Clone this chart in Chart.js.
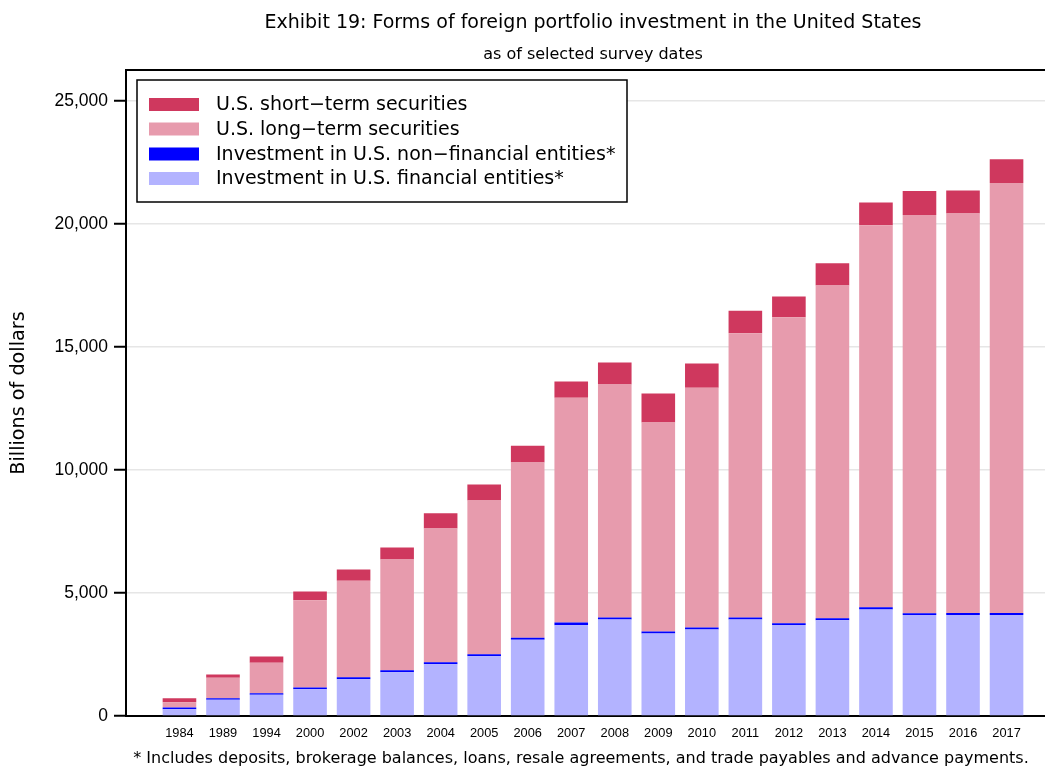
<!DOCTYPE html>
<html>
<head>
<meta charset="utf-8">
<script src="https://cdn.jsdelivr.net/npm/chart.js@4.4.1/dist/chart.umd.min.js"></script>
<style>
html,body{margin:0;padding:0;background:#fff;overflow:hidden;}
canvas{display:block;}
</style>
</head>
<body>
<canvas id="c" width="1062" height="768" style="width:1062px;height:768px"></canvas>
<script>
const categories = ['1984','1989','1994','2000','2002','2003','2004','2005','2006','2007','2008','2009','2010','2011','2012','2013','2014','2015','2016','2017'];
const financial = [276,659,862,1089,1496,1780,2106,2431,3098,3691,3923,3354,3516,3920,3700,3891,4326,4106,4106,4106];
const nonFinancial = [69,65,65,70,81,82,81,81,81,110,81,81,82,81,69,81,93,69,82,82];
const longTerm = [216,829,1236,3548,3919,4500,5435,6248,7126,9134,9472,8496,9743,11560,12441,13526,15528,16195,16234,17481];
const shortTerm = [163,134,256,354,459,488,622,651,679,663,894,1179,988,909,841,906,922,974,935,959];
const yTicks = [0,5000,10000,15000,20000,25000];

const titleText = 'Exhibit 19: Forms of foreign portfolio investment in the United States';
const subtitleText = 'as of selected survey dates';
const yTitleText = 'Billions of dollars';
const footnoteText = '* Includes deposits, brokerage balances, loans, resale agreements, and trade payables and advance payments.';

const FONT = '"DejaVu Sans", "Liberation Sans", Arial, sans-serif';
const FONT2 = '"Liberation Sans", Arial, sans-serif';

function pts(arr){ return arr.map((v,i)=>({x:i,y:v})); }

const datasets = [
  {label:'Investment in U.S. financial entities*', data:pts(financial), backgroundColor:'#b3b3ff'},
  {label:'Investment in U.S. non\u2212financial entities*', data:pts(nonFinancial), backgroundColor:'#0000ff'},
  {label:'U.S. long\u2212term securities', data:pts(longTerm), backgroundColor:'#e79bad'},
  {label:'U.S. short\u2212term securities', data:pts(shortTerm), backgroundColor:'#cf385e'}
];

const decor = {
  id:'decor',
  afterDraw(chart){
    const ctx = chart.ctx, a = chart.chartArea;
    ctx.save();
    ctx.strokeStyle = '#000'; ctx.lineWidth = 2;
    ctx.beginPath(); ctx.moveTo(a.left-1, a.top); ctx.lineTo(a.right, a.top); ctx.stroke();
    ctx.fillStyle = '#000';
    ctx.textAlign = 'center'; ctx.textBaseline = 'middle';
    ctx.font = '19px ' + FONT;
    ctx.fillText(titleText, 593, 23);
    ctx.font = '16px ' + FONT;
    ctx.fillText(subtitleText, 593, 55);
    ctx.font = '16px ' + FONT;
    ctx.fillText(footnoteText, 581, 759);
    ctx.save();
    ctx.translate(19, (a.top + a.bottom)/2);
    ctx.rotate(-Math.PI/2);
    ctx.font = '19.2px ' + FONT;
    ctx.fillText(yTitleText, 0, 0);
    ctx.restore();
    ctx.lineWidth = 1.5; ctx.strokeStyle = '#000';
    ctx.fillStyle = '#fff';
    ctx.fillRect(137, 80, 490, 122);
    ctx.strokeRect(137, 80, 490, 122);
    const order = chart.data.datasets.slice().reverse();
    const rows = [104.5, 129, 154, 178.5];
    ctx.textAlign = 'left';
    ctx.font = '19px ' + FONT;
    order.forEach((ds, k) => {
      ctx.fillStyle = ds.backgroundColor;
      ctx.fillRect(149, rows[k]-6.5, 50, 13);
      ctx.fillStyle = '#000';
      ctx.fillText(ds.label, 216, rows[k]+1);
    });
    ctx.restore();
  }
};

new Chart(document.getElementById('c'), {
  type:'bar',
  data:{datasets},
  options:{
    responsive:false,
    animation:false,
    events:[],
    layout:{padding:{left:0,right:2,top:70,bottom:0}},
    datasets:{bar:{barPercentage:0.772, categoryPercentage:1, borderWidth:0}},
    plugins:{legend:{display:false}, title:{display:false}, tooltip:{enabled:false}},
    scales:{
      x:{
        type:'linear', stacked:true, min:-1.228, max:20.228, offset:false,
        grid:{display:false},
        border:{display:true, color:'#000', width:2},
        afterBuildTicks(s){ s.ticks = categories.map((c,i)=>({value:i})); },
        afterFit(s){ s.height = 52; },
        ticks:{autoSkip:false, maxRotation:0, padding:2, color:'#000',
          font:{family:FONT2, size:12.8},
          callback:(v)=>categories[v] ?? ''}
      },
      y:{
        stacked:true, min:0, max:26260,
        afterBuildTicks(s){ s.ticks = yTicks.map(v=>({value:v})); },
        afterFit(s){ s.width = 126; },
        grid:{color:'#e6e6e6', lineWidth:1.5, tickColor:'#000', tickLength:12, tickWidth:2},
        border:{display:true, color:'#000', width:2},
        ticks:{padding:6, color:'#000', font:{family:FONT2, size:17.5},
          callback:(v)=>v.toLocaleString('en-US')}
      }
    }
  },
  plugins:[decor]
});
</script>
</body>
</html>
